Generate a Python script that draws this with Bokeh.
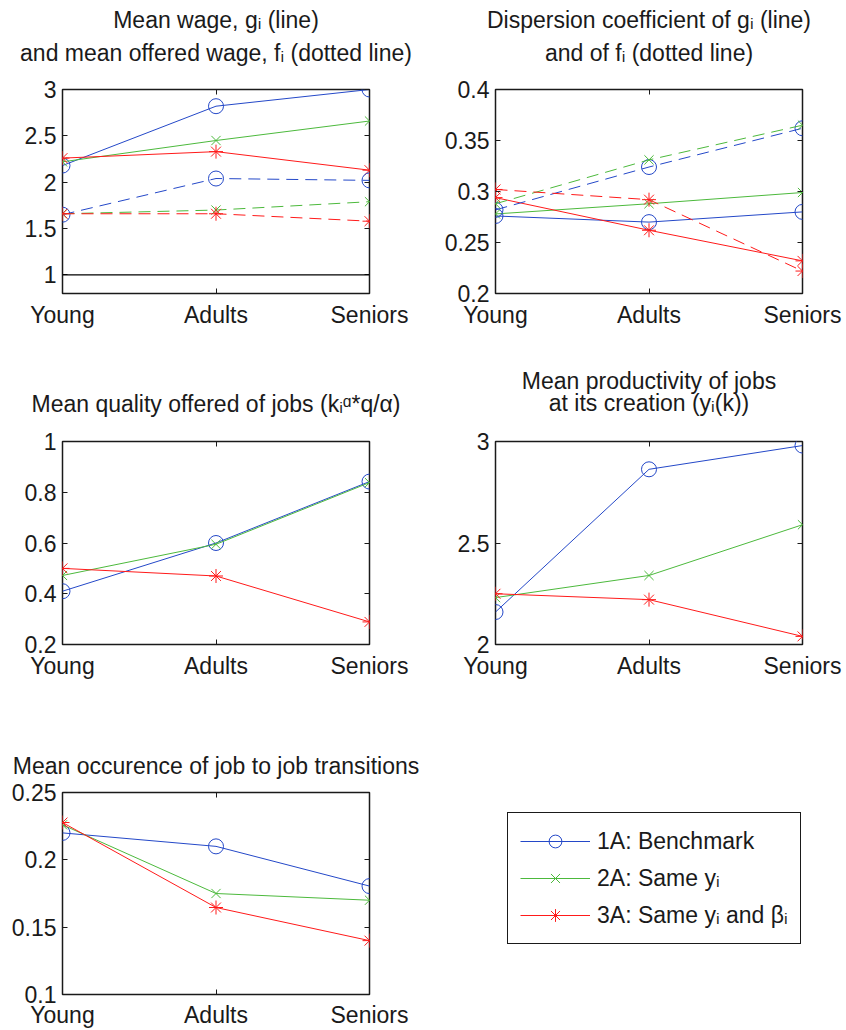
from bokeh.plotting import figure
from bokeh.models import (Legend, LegendItem, FixedTicker, LinearAxis, Range1d, Span, Label,
                          CustomLabelingPolicy)
from bokeh.layouts import row, column
from bokeh.embed import file_html
from bokeh.resources import INLINE

# ---------------- data ----------------
age_groups = ["Young", "Adults", "Seniors"]
x_pos = [1, 2, 3]

series_names = ["1A: Benchmark", "2A: Same y\u1d62", "3A: Same y\u1d62 and \u03b2\u1d62"]

# Mean wage g_i (solid) and mean offered wage f_i (dashed)
wage_g_1A = [2.18, 2.82, 3.00]
wage_g_2A = [2.22, 2.45, 2.66]
wage_g_3A = [2.26, 2.33, 2.13]
wage_f_1A = [1.65, 2.04, 2.02]
wage_f_2A = [1.66, 1.70, 1.79]
wage_f_3A = [1.66, 1.66, 1.58]
wage_reference = 1.0

# Dispersion coefficient of g_i (solid) and f_i (dashed)
disp_g_1A = [0.276, 0.270, 0.280]
disp_g_2A = [0.278, 0.288, 0.299]
disp_g_3A = [0.294, 0.262, 0.232]
disp_f_1A = [0.282, 0.324, 0.362]
disp_f_2A = [0.288, 0.331, 0.365]
disp_f_3A = [0.302, 0.292, 0.222]

# Mean quality offered of jobs
quality_1A = [0.41, 0.60, 0.842]
quality_2A = [0.472, 0.595, 0.838]
quality_3A = [0.50, 0.47, 0.289]

# Mean productivity of jobs at creation
prod_1A = [2.16, 2.863, 2.98]
prod_2A = [2.231, 2.34, 2.59]
prod_3A = [2.25, 2.221, 2.04]

# Mean occurence of job to job transitions
j2j_1A = [0.22, 0.21, 0.1805]
j2j_2A = [0.226, 0.175, 0.170]
j2j_3A = [0.2277, 0.1646, 0.140]

# axis ticks
wage_ticks = [1, 1.5, 2, 2.5, 3]
disp_ticks = [0.2, 0.25, 0.3, 0.35, 0.4]
quality_ticks = [0.2, 0.4, 0.6, 0.8, 1]
prod_ticks = [2, 2.5, 3]
j2j_ticks = [0.1, 0.15, 0.2, 0.25]

# panel titles
title_wage = ["Mean wage, g\u1d62 (line)", "and mean offered wage, f\u1d62 (dotted line)"]
title_disp = ["Dispersion coefficient of g\u1d62 (line)", "and of f\u1d62 (dotted line)"]
title_quality = ["Mean quality offered of jobs (k\u1d62\u1d45*q/\u03b1)"]
title_prod = ["Mean productivity of jobs", "at its creation (y\u1d62(k))"]
title_j2j = ["Mean occurence of job to job transitions"]

# ---------------- style ----------------
FONT = "Liberation Sans"
FS = "23px"
INK = "#1a1a1a"
COLORS = ["#2448c8", "#4cb93c", "#ff1a1a"]
MARKERS = ["circle", "x", "asterisk"]
SIZES = [15, 13, 14]
DASH = "12 7"

LEFT_W, RIGHT_W = 428, 418
FRAME_W = 307
LEFT_CX = 62 + FRAME_W / 2          # frame centre of left column panels
RIGHT_CX = 67 + FRAME_W / 2         # frame centre of right column panels (within their figure)

HIDE_LABELS = "for (const i of indices) { indices.unset(i) }\nreturn indices"


def style_axis(ax, show, standoff):
    ax.axis_line_color = None
    ax.major_tick_in = 5
    ax.major_tick_out = 0
    ax.minor_tick_line_color = None
    ax.major_tick_line_color = INK
    ax.major_tick_line_width = 1
    ax.major_label_text_font = FONT
    ax.major_label_text_color = INK
    if show:
        ax.major_label_text_font_size = FS
        ax.major_label_standoff = standoff
    else:
        ax.major_label_text_font_size = "1px"
        ax.major_label_standoff = 0
        ax.major_label_policy = CustomLabelingPolicy(code=HIDE_LABELS)


def make_fig(width, height, left, right, top, bottom, yr, yticks, xstand):
    p = figure(width=width, height=height, x_range=Range1d(1, 3), y_range=Range1d(*yr),
               output_backend="svg", toolbar_location=None,
               min_border_left=left, min_border_right=right,
               min_border_top=top, min_border_bottom=bottom,
               x_axis_type=None, y_axis_type=None)
    p.outline_line_color = INK
    p.outline_line_width = 1.5
    xlabels = {x: n for x, n in zip(x_pos, age_groups)}
    ylabels = {t: f"{t:g}" for t in yticks}
    bx = LinearAxis(ticker=FixedTicker(ticks=x_pos), major_label_overrides=xlabels)
    style_axis(bx, True, xstand)
    p.add_layout(bx, "below")
    tx = LinearAxis(ticker=FixedTicker(ticks=x_pos))
    style_axis(tx, False, 0)
    p.add_layout(tx, "above")
    ly = LinearAxis(ticker=FixedTicker(ticks=yticks), major_label_overrides=ylabels)
    style_axis(ly, True, 6)
    p.add_layout(ly, "left")
    ry = LinearAxis(ticker=FixedTicker(ticks=yticks))
    style_axis(ry, False, 0)
    p.add_layout(ry, "right")
    return p


def title_fig(height, entries):
    """A blank strip that carries the panel titles as text labels."""
    t = figure(width=LEFT_W + RIGHT_W, height=height, x_range=Range1d(0, 1), y_range=Range1d(0, 1),
               output_backend="svg", toolbar_location=None, min_border=0,
               x_axis_type=None, y_axis_type=None)
    t.outline_line_color = None
    for cx, lines, ys in entries:
        for text, y in zip(lines, ys):
            t.add_layout(Label(x=cx, y=y, x_units="screen", y_units="screen", text=text,
                               text_align="center", text_baseline="alphabetic",
                               text_font=FONT, text_font_size=FS, text_color=INK))
    return t


def plot_series(p, series, dash="solid"):
    for vals, c, m, s in zip(series, COLORS, MARKERS, SIZES):
        p.line(x_pos, vals, line_color=c, line_width=1, line_dash=dash)
        p.scatter(x_pos, vals, marker=m, size=s, line_color=c, fill_color=None, line_width=1)


# ---- row 1 ----
t1 = title_fig(77, [(LEFT_CX, title_wage, [58, 25]),
                    (LEFT_W + RIGHT_CX, title_disp, [58, 25])])

p1 = make_fig(LEFT_W, 263, 62, 59, 12, 47, (0.8, 3), wage_ticks, 8)
p1.add_layout(Span(location=wage_reference, dimension="width", line_color="black", line_width=1.2))
plot_series(p1, [wage_g_1A, wage_g_2A, wage_g_3A])
plot_series(p1, [wage_f_1A, wage_f_2A, wage_f_3A], dash=DASH)

p2 = make_fig(RIGHT_W, 263, 67, 44, 12, 47, (0.2, 0.4), disp_ticks, 8)
plot_series(p2, [disp_g_1A, disp_g_2A, disp_g_3A])
plot_series(p2, [disp_f_1A, disp_f_2A, disp_f_3A], dash=DASH)

# ---- row 2 ----
t2 = title_fig(89, [(LEFT_CX, title_quality, [26]),
                    (LEFT_W + RIGHT_CX, title_prod, [49, 27])])

p3 = make_fig(LEFT_W, 271, 62, 59, 12, 56, (0.2, 1), quality_ticks, 8)
plot_series(p3, [quality_1A, quality_2A, quality_3A])

p4 = make_fig(RIGHT_W, 271, 67, 44, 12, 56, (2, 3), prod_ticks, 8)
plot_series(p4, [prod_1A, prod_2A, prod_3A])

# ---- row 3 ----
t3 = title_fig(80, [(LEFT_CX, title_j2j, [15])])

p5 = make_fig(LEFT_W, 250, 62, 59, 12, 34, (0.1, 0.25), j2j_ticks, 7)
plot_series(p5, [j2j_1A, j2j_2A, j2j_3A])

# Legend panel
nan = float("nan")
pl = figure(width=RIGHT_W, height=250, x_range=Range1d(0, 1), y_range=Range1d(0, 1),
            output_backend="svg", toolbar_location=None, min_border=0,
            x_axis_type=None, y_axis_type=None)
pl.outline_line_color = None
items = []
for name, c, m, s in zip(series_names, COLORS, MARKERS, SIZES):
    r1 = pl.line([nan], [nan], line_color=c, line_width=1)
    r2 = pl.scatter([nan], [nan], marker=m, size=s, line_color=c, fill_color=None, line_width=1)
    items.append(LegendItem(label=name, renderers=[r1, r2]))
legend = Legend(items=items, location=(79, 50))
legend.border_line_color = INK
legend.border_line_width = 1.5
legend.border_line_alpha = 1.0
legend.background_fill_color = "white"
legend.label_text_font = FONT
legend.label_text_font_size = FS
legend.label_text_color = INK
legend.glyph_width = 70
legend.glyph_height = 32
legend.label_standoff = 7
legend.padding = 12
legend.spacing = 5
legend.margin = 0
pl.add_layout(legend)

layout = column(t1, row(p1, p2), t2, row(p3, p4), t3, row(p5, pl))

open("out.html", "w").write(file_html(layout, INLINE))
